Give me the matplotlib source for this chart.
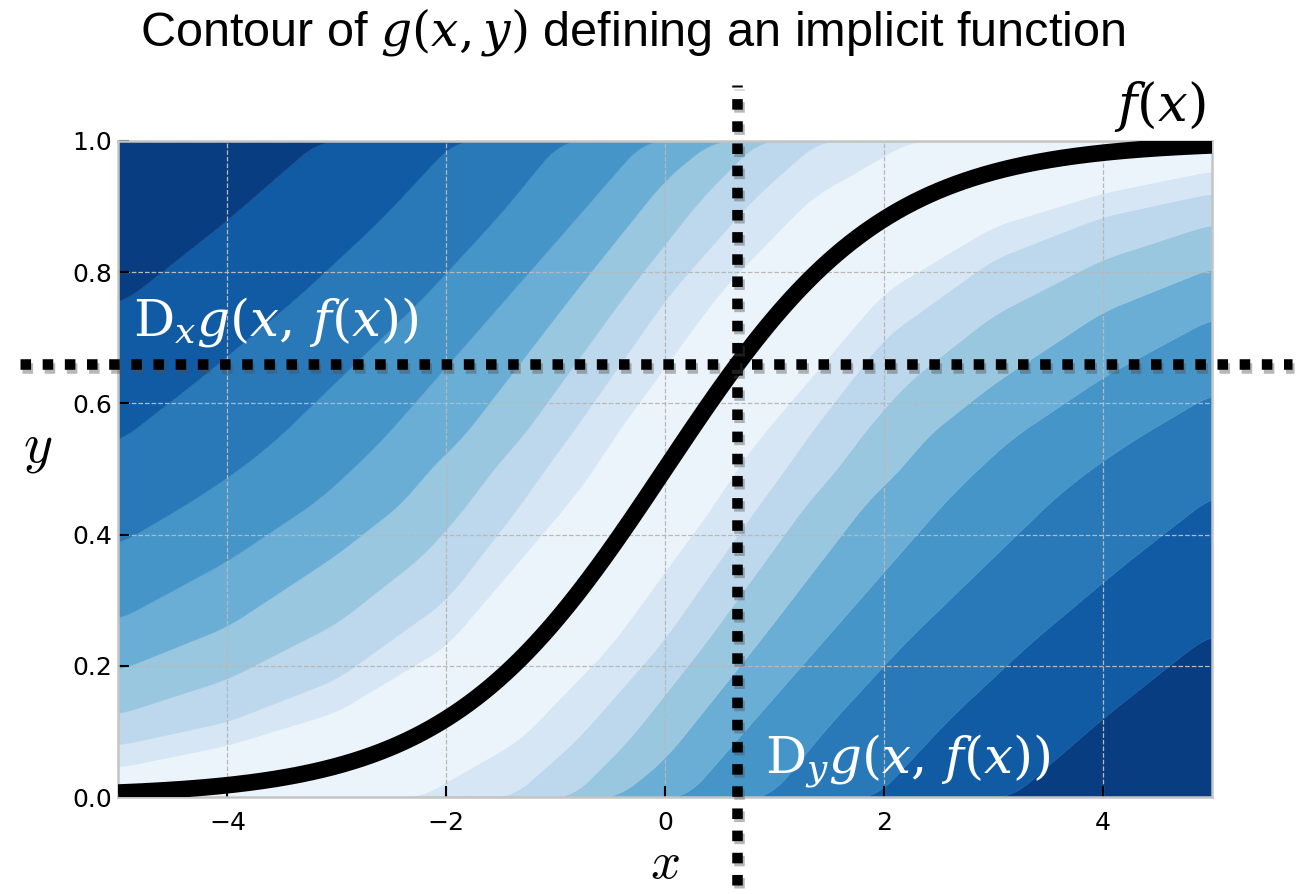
import numpy as np
import matplotlib
matplotlib.use("Agg")
import matplotlib.pyplot as plt
import matplotlib.patheffects as pe

# band boundaries above/left of the curve
# (nearest the curve first); the ones below/right mirror these
up_x = [
    [-5, -4, -3, -2, -0.86, -0.65, -0.49, 0.5, 1.33, 2.0, 2.24],
    [-5, -4, -3, -2, -1.29, -1.10, -0.9, 0.03, 0.81, 1.4],
    [-5, -4, -3, -2.2, -1.77, -1.58, -1.33, -0.37, 0.33, 0.85],
    [-5, -4, -3, -2.37, -2.16, -1.87, -0.85, 0.0, 0.43],
    [-5, -4, -3.17, -2.86, -2.59, -1.43, -0.8, -0.2],
    [-5, -4.31, -3.89, -3.56, -2.19, -1.5, -0.96],
    [-5, -4.2, -3.34, -2.6, -1.93],
    [-5, -4.87, -4.0, -3.17],
]
up_y = [
    [0.045, 0.079, 0.13, 0.23, 0.453, 0.5, 0.544, 0.77, 0.913, 0.977, 1.0],
    [0.079, 0.115, 0.18, 0.30, 0.453, 0.5, 0.544, 0.765, 0.913, 1.0],
    [0.126, 0.18, 0.265, 0.37, 0.453, 0.5, 0.544, 0.765, 0.913, 1.0],
    [0.193, 0.26, 0.37, 0.453, 0.5, 0.544, 0.765, 0.942, 1.0],
    [0.27, 0.36, 0.453, 0.5, 0.544, 0.765, 0.885, 1.0],
    [0.385, 0.453, 0.5, 0.544, 0.765, 0.89, 1.0],
    [0.541, 0.645, 0.765, 0.88, 1.0],
    [0.752, 0.765, 0.88, 1.0],
]

# point where the dotted lines cross
x0 = 0.66
y0 = 0.66

xticks = [-4, -2, 0, 2, 4]
yticks = [0.0, 0.2, 0.4, 0.6, 0.8, 1.0]


def smooth(v, w=41):
    # round off the corners of the read polylines
    vp = np.pad(v, w // 2, mode="edge")
    return np.convolve(vp, np.ones(w) / w, mode="valid")


fig = plt.figure(figsize=(12.97, 8.94), dpi=100)
ax = fig.add_axes([0.091, 0.1085, 0.8435, 0.7338])

xs = np.linspace(-5, 5, 1201)
upper = [smooth(np.interp(xs, bx, by, right=1.0)) for bx, by in zip(up_x, up_y)]
lower = [1 - smooth(np.interp(-xs, bx, by, right=1.0)) for bx, by in zip(up_x, up_y)]
bounds = [np.zeros_like(xs)] + lower[::-1] + upper + [np.ones_like(xs)]

n = len(up_x)
colors = plt.cm.Blues((np.arange(n + 1) + 0.5) / (n + 1))
for k in range(len(bounds) - 1):
    c = colors[abs(k - n)]
    ax.fill_between(xs, bounds[k], bounds[k + 1], facecolor=c, edgecolor=c, lw=0.3)

# the implicit function f(x), a logistic sigmoid
ax.plot(xs, 1 / (1 + np.exp(-xs)), color="black", lw=12, solid_capstyle="butt", zorder=3)

shadow = [pe.SimpleLineShadow(offset=(1.5, -2.5), shadow_color="0.3", alpha=0.4), pe.Normal()]
ax.axvline(x0, ymin=-0.134, ymax=1.085, color="black", lw=7.6, dashes=(1, 1.1),
           dash_capstyle="butt", clip_on=False, path_effects=shadow, zorder=4)
ax.axhline(y0, xmin=-0.09, xmax=1.073, color="black", lw=7.6, dashes=(1, 1.1),
           dash_capstyle="butt", clip_on=False, path_effects=shadow, zorder=4)

ax.set_xlim(-5, 5)
ax.set_ylim(0, 1)
ax.set_xticks(xticks)
ax.set_yticks(yticks)
ax.set_axisbelow("line")
ax.grid(True, color="#b8b8b8", ls="--", lw=0.9)
ax.tick_params(direction="in", length=8, width=1.5, colors="black", labelsize=18)
ax.tick_params(axis="x", pad=10)
ax.tick_params(axis="y", pad=4)
for s in ax.spines.values():
    s.set_color("#c4c4c4")
    s.set_linewidth(1.8)

ax.text(-4.86, 0.724, r"$\mathrm{D}_x g(x,\,f(x))$", color="white", fontsize=37,
        math_fontfamily="dejavuserif", ha="left", va="center", zorder=5)
ax.text(0.91, 0.055, r"$\mathrm{D}_y g(x,\,f(x))$", color="white", fontsize=37,
        math_fontfamily="dejavuserif", ha="left", va="center", zorder=5)
ax.text(4.52, 1.052, r"$f(x)$", color="black", fontsize=38, math_fontfamily="dejavuserif",
        ha="center", va="center", clip_on=False)

fig.text(38 / 1297, 1 - 448 / 894, r"$y$", fontsize=40, math_fontfamily="cm",
         ha="center", va="center")
fig.text(665 / 1297, 1 - 878 / 894, r"$x$", fontsize=38, math_fontfamily="cm",
         ha="center", va="baseline")
fig.text(633 / 1297, 1 - 32 / 894, r"Contour of $g(x,y)$ defining an implicit function",
         fontsize=35, family="Liberation Sans", math_fontfamily="dejavuserif",
         ha="center", va="center")

fig.savefig("out.png", dpi=100)
